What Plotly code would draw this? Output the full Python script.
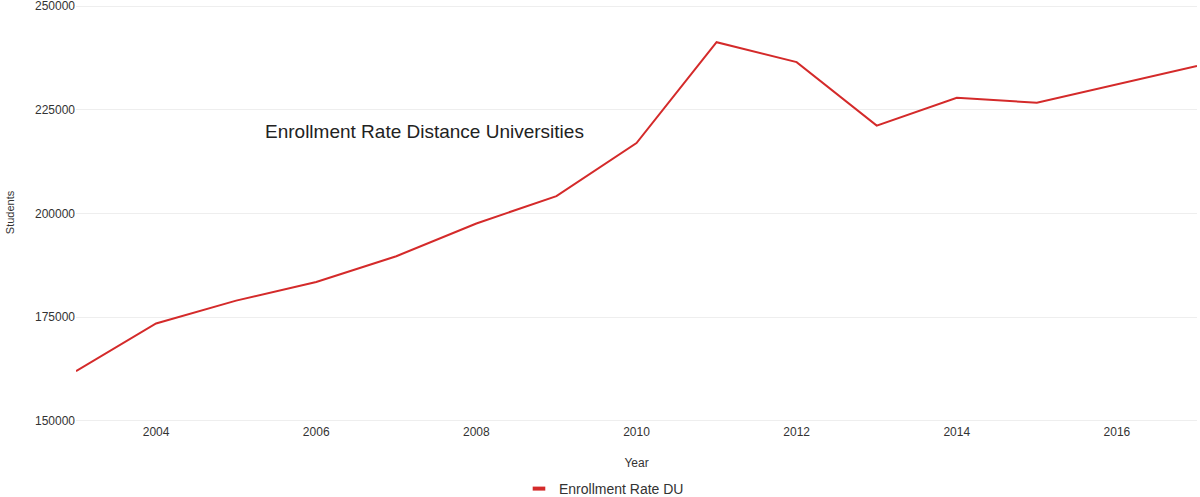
import plotly.graph_objects as go

years = list(range(2003, 2018))
students = [162000, 173500, 179000, 183500, 189700, 197600, 204200, 217000,
            241300, 236500, 221200, 227900, 226700, 231100, 235600]
series_name = "Enrollment Rate DU"
chart_title = "Enrollment Rate Distance Universities"
x_title = "Year"
y_title = "Students"
y_ticks = [150000, 175000, 200000, 225000, 250000]
x_ticks = [2004, 2006, 2008, 2010, 2012, 2014, 2016]

red = "#d42a2a"
font_family = "Liberation Sans, Arial, sans-serif"

fig = go.Figure()
fig.add_trace(go.Scatter(x=years, y=students, mode="lines", name=series_name,
                         line=dict(color=red, width=2), showlegend=False,
                         cliponaxis=False))
fig.add_trace(go.Scatter(x=[None], y=[None], mode="markers", name=series_name,
                         marker=dict(symbol="line-ew", size=9, color=red,
                                     line=dict(width=4, color=red))))

fig.add_annotation(x=2005.33, y=219900, xref="x", yref="y", text=chart_title,
                   showarrow=False, xanchor="left", yanchor="middle",
                   font=dict(size=19, color="#222", family=font_family))

fig.update_layout(
    width=1200, height=497,
    margin=dict(l=76, r=3, t=2, b=74),
    paper_bgcolor="white", plot_bgcolor="white",
    font=dict(family=font_family, size=12, color="#333"),
    xaxis=dict(range=[2003, 2017], tickmode="array", tickvals=x_ticks,
               showgrid=False, zeroline=False, showline=False, ticks="",
               automargin=False,
               title=dict(text=x_title, font=dict(size=12), standoff=20),
               tickfont=dict(size=12, color="#333")),
    yaxis=dict(range=[149500, 251000], tickmode="array", tickvals=y_ticks,
               showgrid=True, gridcolor="#eeeeee", gridwidth=1, zeroline=False,
               showline=False, ticks="", tickformat="d", automargin=False,
               ticklabeloverflow="allow",
               title=dict(text=y_title, font=dict(size=11), standoff=18),
               tickfont=dict(size=12, color="#333")),
    legend=dict(orientation="h", x=0.471, xanchor="center",
                yref="container", y=8 / 497, yanchor="middle",
                font=dict(size=14, color="#333")),
)

fig.write_html("out.html", config={"displayModeBar": False},
               post_script="document.body.style.margin='0px';")
